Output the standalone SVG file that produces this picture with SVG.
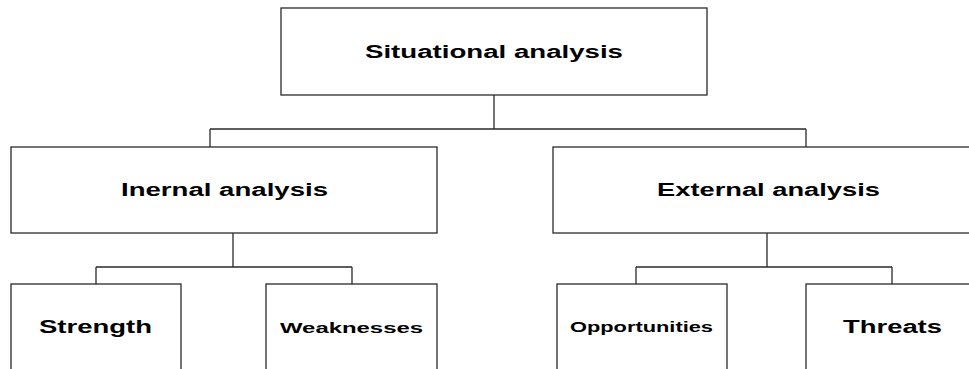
<svg xmlns="http://www.w3.org/2000/svg" width="969" height="369" viewBox="0 0 969 369">
<style>
.box{fill:#fff;stroke:#2a2a2a;stroke-width:1.3}
.lbl{font-family:"Liberation Sans",Arial,sans-serif;font-weight:bold;fill:#000}
.conn{fill:none;stroke:#2a2a2a;stroke-width:1.3}
</style>
<rect width="969" height="369" fill="#fff"/>
<g id="connectors">
<path class="conn" d="M494,95V129M210,129H806M210,129V147M806,129V147"/>
<path class="conn" d="M233,233V267M96,267H352M96,267V284M352,267V284"/>
<path class="conn" d="M767,233V267M636,267H892M636,267V284M892,267V284"/>
</g>
<g id="situational">
<rect class="box" x="281" y="8" width="426" height="87"/>
<text class="lbl" x="365" y="58" font-size="18" textLength="258" lengthAdjust="spacingAndGlyphs">Situational analysis</text>
</g>
<g id="internal">
<rect class="box" x="11" y="147" width="426" height="86"/>
<text class="lbl" x="121" y="196" font-size="18" textLength="207" lengthAdjust="spacingAndGlyphs">Inernal analysis</text>
</g>
<g id="external">
<rect class="box" x="553" y="147" width="430" height="86"/>
<text class="lbl" x="657" y="196" font-size="18" textLength="223" lengthAdjust="spacingAndGlyphs">External analysis</text>
</g>
<g id="strength">
<rect class="box" x="11" y="284" width="170" height="100"/>
<text class="lbl" x="39" y="333" font-size="18" textLength="113" lengthAdjust="spacingAndGlyphs">Strength</text>
</g>
<g id="weaknesses">
<rect class="box" x="266" y="284" width="171" height="100"/>
<text class="lbl" x="280" y="333" font-size="15" textLength="143" lengthAdjust="spacingAndGlyphs">Weaknesses</text>
</g>
<g id="opportunities">
<rect class="box" x="557" y="284" width="170" height="100"/>
<text class="lbl" x="570" y="332" font-size="14" textLength="143" lengthAdjust="spacingAndGlyphs">Opportunities</text>
</g>
<g id="threats">
<rect class="box" x="806" y="284" width="170" height="100"/>
<text class="lbl" x="843" y="333" font-size="18" textLength="99" lengthAdjust="spacingAndGlyphs">Threats</text>
</g>
</svg>
